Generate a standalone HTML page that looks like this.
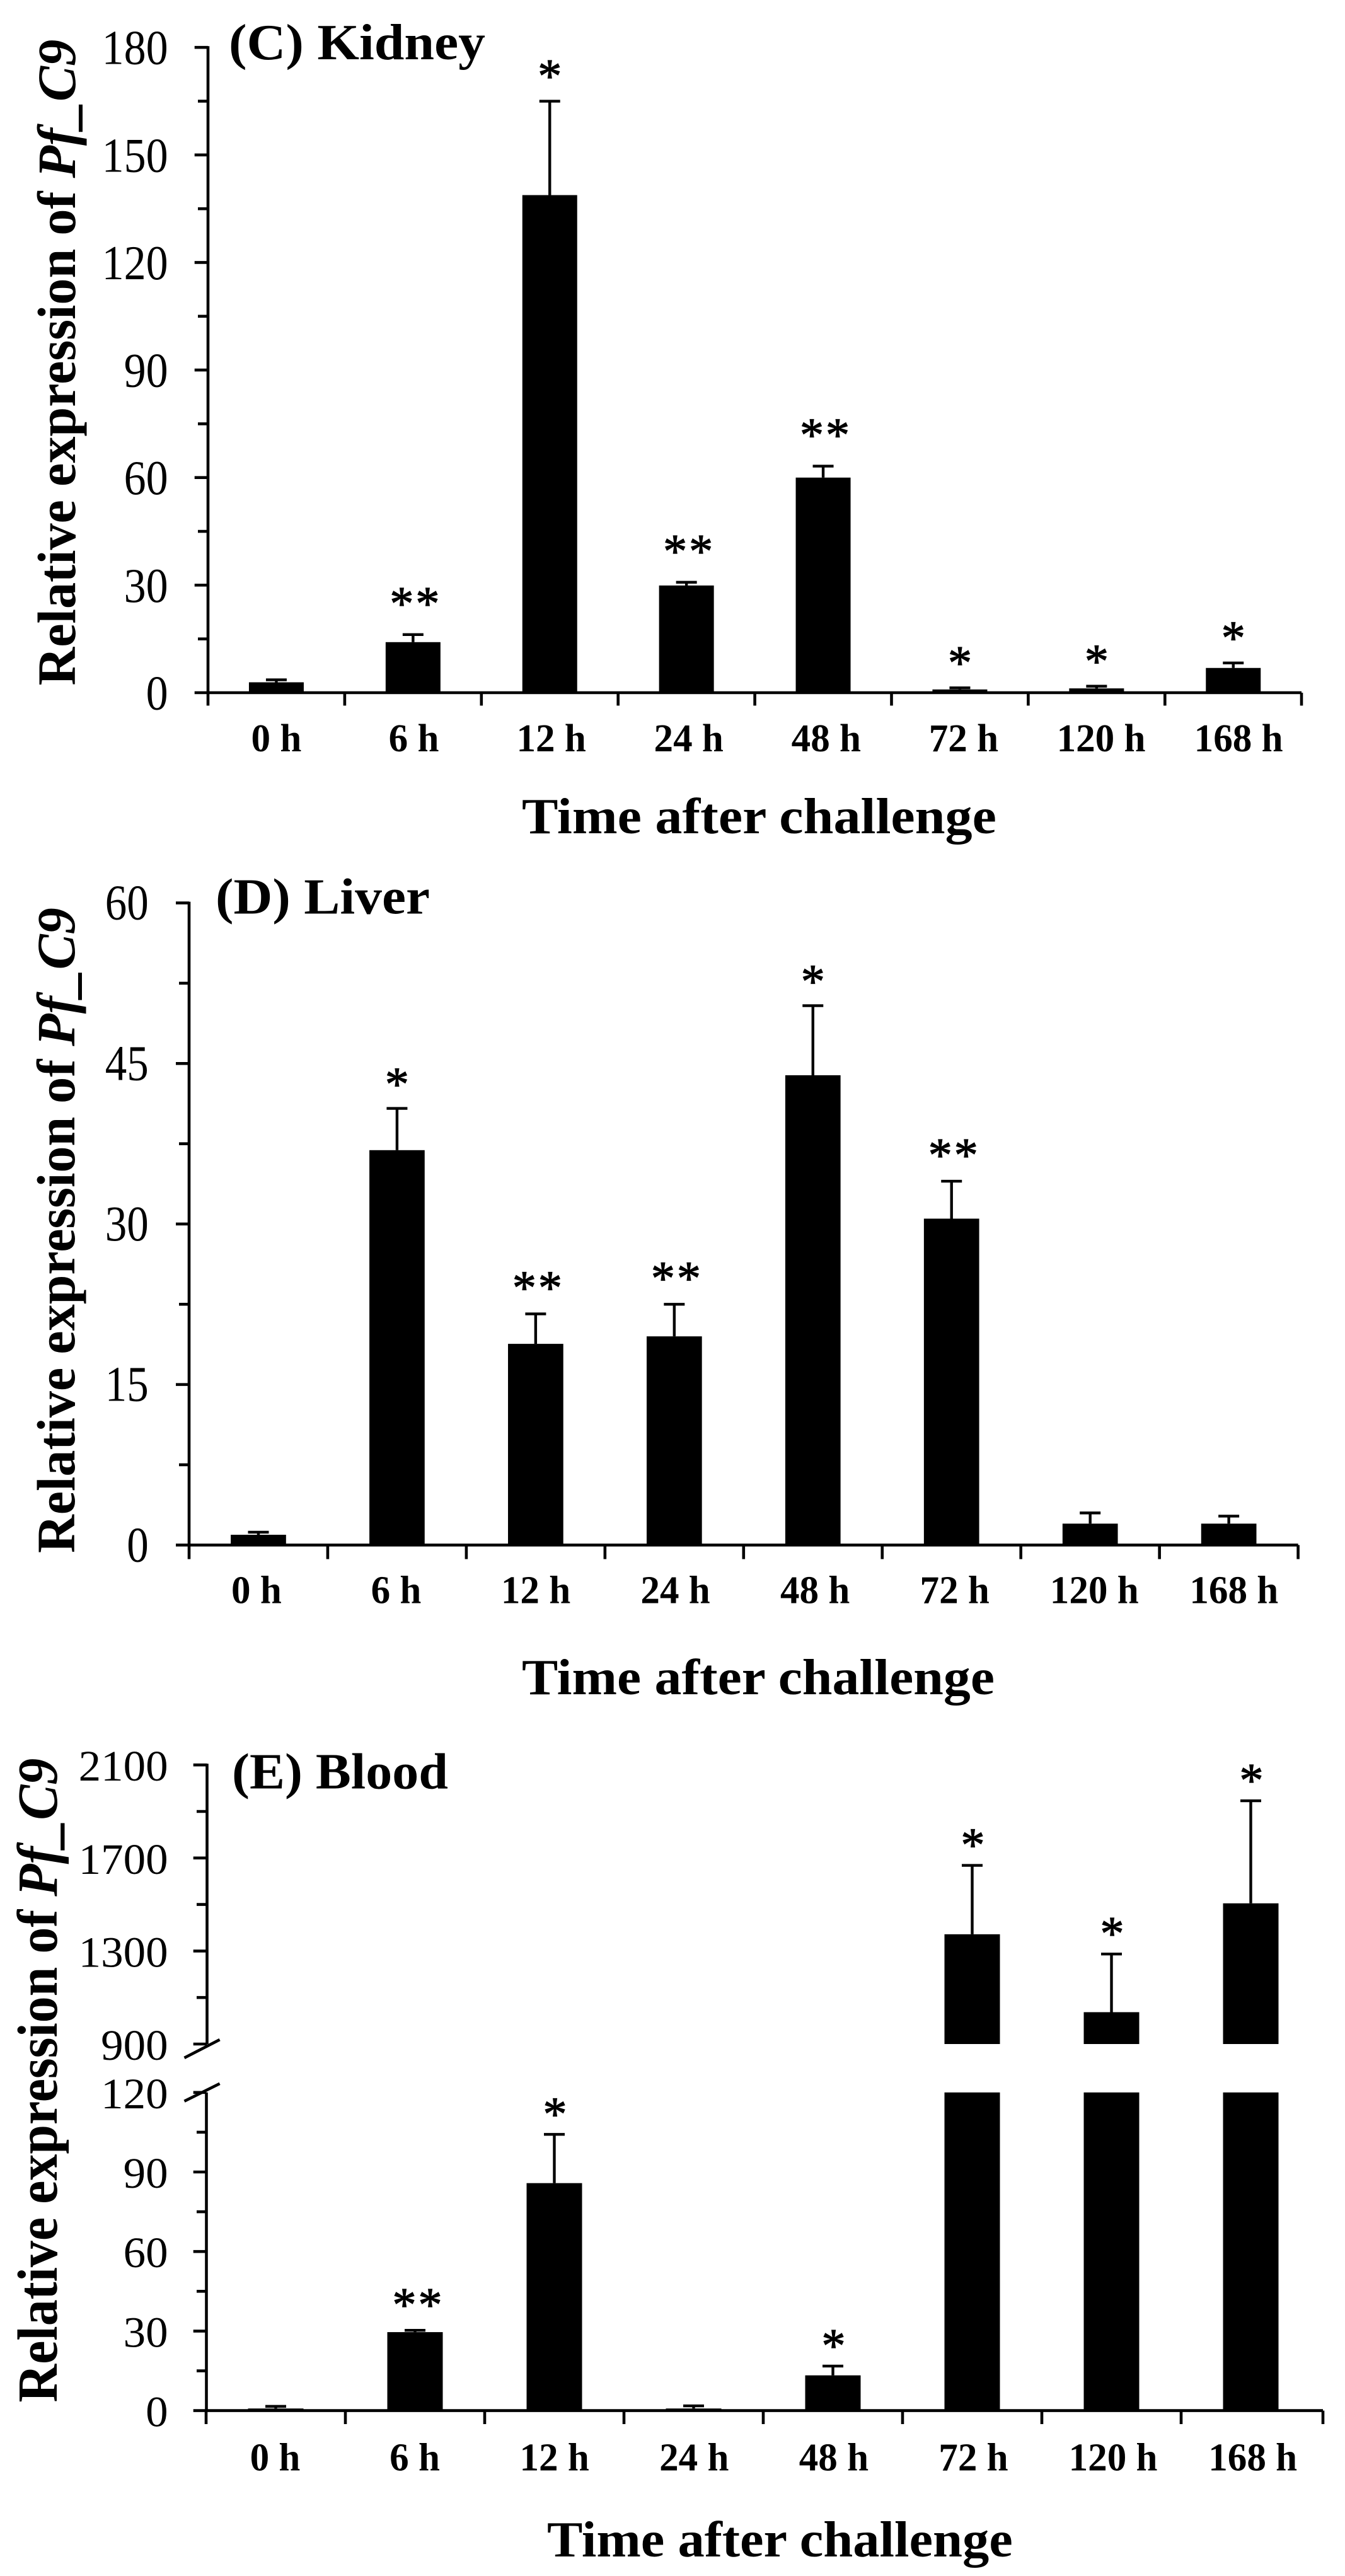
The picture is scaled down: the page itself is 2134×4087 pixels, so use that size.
<!DOCTYPE html>
<html lang="en">
<head>
<meta charset="utf-8">
<title>Relative expression of Pf_C9 after challenge</title>
<style>
  html, body { margin: 0; padding: 0; background: #fff; }
  svg { display: block; }
  text { font-family: "Liberation Serif", "Times New Roman", serif; fill: #000; }
</style>
</head>
<body>
<svg id="figure" xmlns="http://www.w3.org/2000/svg" width="2134" height="4087" viewBox="0 0 2134 4087">
  <rect x="0" y="0" width="2134" height="4087" fill="#fff"/>
</svg>
<script>
const categories = ['0 h', '6 h', '12 h', '24 h', '48 h', '72 h', '120 h', '168 h'];

const kidneyValues = [2.9, 14.1, 138.8, 29.9, 60, 0.9, 1.2, 6.9];
const kidneyErrors = [0.7, 2.1, 26.2, 0.9, 3.2, 0.45, 0.6, 1.4];
const kidneySignificance = ['', '**', '*', '**', '**', '*', '*', '*'];
const kidneyTicks = [0, 30, 60, 90, 120, 150, 180];

const liverValues = [0.96, 36.9, 18.8, 19.5, 43.9, 30.5, 2, 2];
const liverErrors = [0.24, 3.9, 2.8, 3, 6.5, 3.5, 1, 0.7];
const liverSignificance = ['', '*', '**', '**', '*', '**', '', ''];
const liverTicks = [0, 15, 30, 45, 60];

const bloodValues = [0.8, 29.6, 85.8, 0.8, 13.3, 1372, 1037, 1505];
const bloodErrors = [0.8, 0.7, 18.4, 1, 3.5, 296, 250, 441];
const bloodSignificance = ['', '**', '*', '', '*', '*', '*', '*'];
const bloodLowerTicks = [0, 30, 60, 90, 120];
const bloodUpperTicks = [900, 1300, 1700, 2100];

const svg = document.getElementById('figure');
const NS = 'http://www.w3.org/2000/svg';

function kidneyY(v) { return 1099 - v / 180 * (1099 - 75.2); }
function liverY(v) { return 2451.3 - v / 60 * (2451.3 - 1432.6); }
function bloodY(v) {
  if (v <= 120) return 3824.6 - v / 120 * (3824.6 - 3319.8);
  return 3243 - (v - 900) / 1200 * (3243 - 2800.2);
}

function addShape(tag, attrs) {
  const el = document.createElementNS(NS, tag);
  for (const k in attrs) el.setAttribute(k, attrs[k]);
  svg.appendChild(el);
  return el;
}
function addLine(x1, y1, x2, y2, w) {
  return addShape('line', { x1: x1, y1: y1, x2: x2, y2: y2, stroke: '#000', 'stroke-width': w });
}
function addText(parts, fs, weight) {
  const el = document.createElementNS(NS, 'text');
  el.setAttribute('font-size', fs);
  el.setAttribute('font-weight', weight);
  parts.forEach(function (p) {
    const t = document.createElementNS(NS, 'tspan');
    if (p.italic) t.setAttribute('font-style', 'italic');
    t.textContent = p.text;
    el.appendChild(t);
  });
  svg.appendChild(el);
  return el;
}
function place(el, x, y, sx, rot) {
  el.setAttribute('transform', 'translate(' + x + ' ' + y + ')' + (rot ? ' rotate(' + rot + ')' : '') + ' scale(' + sx + ' 1)');
}
function placeFit(el, x, y, width, rot) {
  place(el, x, y, width / el.getComputedTextLength(), rot);
}

function drawBars(p, values, errors, significance, yFn) {
  values.forEach(function (v, i) {
    const cx = p.x0 + p.step * (i + 0.5);
    const left = cx - p.barW / 2;
    if (p.breakLow !== undefined && v > p.breakLow) {
      const upper = addShape('rect', { x: left, y: yFn(v), width: p.barW, height: yFn(p.breakHigh) - yFn(v), fill: '#000' });
      
      
      const lower = addShape('rect', { x: left, y: yFn(p.breakLow), width: p.barW, height: yFn(0) - yFn(p.breakLow), fill: '#000' });
      
      
    } else {
      const bar = addShape('rect', { x: left, y: yFn(v), width: p.barW, height: yFn(0) - yFn(v), fill: '#000' });
      
      
    }
    const top = yFn(v + errors[i]);
    const stem = addLine(cx, yFn(v), cx, top, 4.4);
    
    
    const cap = addLine(cx - 16.5, top, cx + 16.5, top, 4.4);
    
    
    const s = significance[i];
    if (s) {
      const star = addText([{ text: s }], 76, 'normal');
      
      
      star.setAttribute('letter-spacing', s.length > 1 ? 3 : 0);
      star.setAttribute('stroke', '#000');
      star.setAttribute('stroke-width', 1.2);
      const gap = s.length > 1 ? p.gapDouble : p.gapSingle;
      const shift = s.length > 1 ? p.starShift + 3 : p.starShift - 1;
      place(star, cx + shift - star.getComputedTextLength() / 2, top - gap + 33, 1, 0);
    }
  });
}

function drawYTicks(p, ticks, yFn, axisX) {
  ticks.forEach(function (v, i) {
    const y = yFn(v);
    const tick = addLine(p.majorLeft, y, axisX, y, 4.6);
    
    
    const label = addText([{ text: String(v) }], p.tickFs, 'normal');
    
    
    const w = p.digitW * String(v).length;
    placeFit(label, p.labelRight - w, y + p.labelDrop, w, 0);
    if (i < ticks.length - 1) {
      const my = yFn((v + ticks[i + 1]) / 2);
      const minor = addLine(p.minorLeft, my, axisX, my, 4.6);
      
      
    }
  });
}

function drawXAxis(p, yFn) {
  const y0 = yFn(0);
  const axis = addLine(p.x0, y0, p.xEnd, y0, 4.6);
  
  
  categories.forEach(function (c, i) {
    const tx = p.x0 + p.step * i;
    const tick = addLine(tx, y0, tx, p.tickBottom, 4.6);
    
    
    const label = addText([{ text: c }], 63, 'bold');
    
    
    const w = label.getComputedTextLength() * 0.97;
    place(label, tx + p.step / 2 + p.labelStart + p.labelDrift * i - w / 2, p.xLabelY, 0.97, 0);
  });
  const end = addLine(p.xEnd, y0, p.xEnd, p.tickBottom, 4.6);
  
  
}

function drawTitles(p, panelName) {
  const panel = addText([{ text: panelName }], 80, 'bold');
  
  
  placeFit(panel, p.titleX, p.titleY, p.titleW, 0);

  const xt = addText([{ text: 'Time after challenge' }], 80, 'bold');
  
  
  placeFit(xt, p.xTitleX, p.xTitleY, p.xTitleW, 0);

  const yt = addText([{ text: 'Relative expression of ' }, { text: 'Pf_C9', italic: true }], p.yTitleFs, 'bold');
  
  
  placeFit(yt, p.yTitleX, p.yTitleBottom, p.yTitleLen, -90);
}

/* Panel C: kidney */
const kidneyLayout = {
  x0: 330, xEnd: 2065, step: 216.9, barW: 87, tickBottom: 1119.5, xLabelY: 1192,
  labelStart: 0, labelDrift: 1.2, starShift: 1, gapSingle: 47.5, gapDouble: 57,
  majorLeft: 308.7, minorLeft: 314, labelRight: 266.6, digitW: 35, tickFs: 77, labelDrop: 26.5,
  titleX: 363, titleY: 94, titleW: 407, xTitleX: 828, xTitleY: 1322, xTitleW: 753,
  yTitleFs: 86, yTitleX: 119, yTitleBottom: 1087.6, yTitleLen: 1025
};
const kAxis = addLine(330, 75.2 - 2, 330, 1099, 4.6);


drawBars(kidneyLayout, kidneyValues, kidneyErrors, kidneySignificance, kidneyY);
drawXAxis(kidneyLayout, kidneyY);
drawYTicks(kidneyLayout, kidneyTicks, kidneyY, 330);
drawTitles(kidneyLayout, '(C) Kidney');

/* Panel D: liver */
const liverLayout = {
  x0: 300, xEnd: 2059.6, step: 219.95, barW: 87.7, tickBottom: 2473.6, xLabelY: 2543.6,
  labelStart: -3, labelDrift: 1.6, starShift: 1, gapSingle: 46, gapDouble: 49,
  majorLeft: 279, minorLeft: 284, labelRight: 235.7, digitW: 34.5, tickFs: 79, labelDrop: 26,
  titleX: 342, titleY: 1449.7, titleW: 340, xTitleX: 828, xTitleY: 2688, xTitleW: 750,
  yTitleFs: 86, yTitleX: 118, yTitleBottom: 2464, yTitleLen: 1024
};
const lAxis = addLine(300, 1432.6 - 2, 300, 2451.3, 4.6);


drawBars(liverLayout, liverValues, liverErrors, liverSignificance, liverY);
drawXAxis(liverLayout, liverY);
drawYTicks(liverLayout, liverTicks, liverY, 300);
drawTitles(liverLayout, '(D) Liver');

/* Panel E: blood, broken axis */
const bloodLayout = {
  x0: 327, xEnd: 2099, step: 221, barW: 88, tickBottom: 3846, xLabelY: 3919.6,
  breakLow: 120, breakHigh: 900,
  labelStart: -1, labelDrift: 0.6, starShift: 2, gapSingle: 40, gapDouble: 48,
  majorLeft: 306.7, minorLeft: 312, labelRight: 266.6, digitW: 35.5, tickFs: 69, labelDrop: 25,
  titleX: 368, titleY: 2837.7, titleW: 343, xTitleX: 868, xTitleY: 4056, xTitleW: 739,
  yTitleFs: 90, yTitleX: 90, yTitleBottom: 3811.5, yTitleLen: 1022
};
const bUpperAxis = addLine(328.5, 2800.2 - 2, 328.5, 3243, 4.6);


const bLowerAxis = addLine(327.5, 3319.8, 327.5, 3824.6, 4.6);


const slashUpper = addLine(292.5, 3264.9, 348.6, 3236.1, 4.6);


const slashLower = addLine(292.5, 3333.7, 348.6, 3305.8, 4.6);


drawBars(bloodLayout, bloodValues, bloodErrors, bloodSignificance, bloodY);
drawXAxis(bloodLayout, bloodY);
drawYTicks(bloodLayout, bloodUpperTicks, bloodY, 328.5);
drawYTicks(bloodLayout, bloodLowerTicks, bloodY, 327.5);
drawTitles(bloodLayout, '(E) Blood');
</script>
</body>
</html>
